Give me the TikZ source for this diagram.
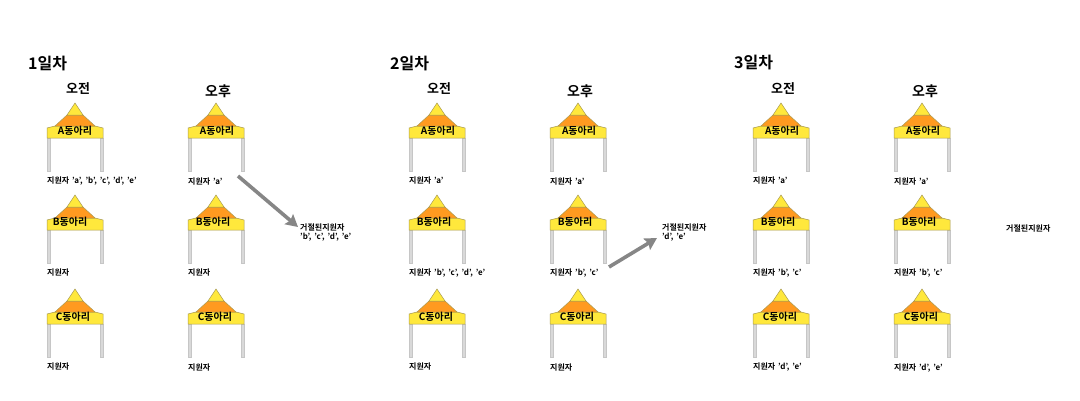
\documentclass[tikz,border=0pt]{standalone}
\usepackage{fontspec}
\setmainfont[WordSpace=1.6]{Noto Sans CJK KR Bold}
\usetikzlibrary{arrows.meta}
\definecolor{tentyellow}{HTML}{FFE83C}
\definecolor{tentorange}{HTML}{FF9A20}
\definecolor{tentline}{HTML}{A89A50}
\tikzset{
  daytitle/.style={anchor=west,font=\fontsize{16}{16}\selectfont,inner sep=0pt},
  halftitle/.style={inner sep=0pt,font=\fontsize{13}{13}\selectfont},
  clublabel/.style={inner sep=0pt,font=\fontsize{10}{10}\selectfont},
  applabel/.style={anchor=west,inner sep=0pt,font=\fontsize{8}{8}\selectfont},
  rejlabel/.style={anchor=west,inner sep=0pt,align=left,font=\fontsize{8}{9}\selectfont},
  rejarrow/.style={draw=gray!95,line width=3.6pt,-{Stealth[length=12pt,width=13pt,inset=2pt]}},
  tent/.pic={
    \fill[gray!30,draw=gray!45,line width=.3pt] (-28,35) rectangle (-25,68);
    \fill[gray!30,draw=gray!45,line width=.3pt] (25,35) rectangle (28,68);
    \filldraw[fill=tentyellow,draw=tentline,line width=.5pt] (-28,25) -- (-20,23) -- (20,23) -- (28,25)
      -- (28,35) -- (-28,35) -- cycle;
    \filldraw[fill=tentorange,draw=tentline,line width=.5pt] (-8,12) -- (8,12) -- (20,23) -- (-20,23) -- cycle;
    \filldraw[fill=tentyellow,draw=tentline,line width=.5pt] (0,0) -- (8,12) -- (-8,12) -- cycle;
  }
}
\begin{document}
\begin{tikzpicture}[x=1pt,y=-1pt]
  \useasboundingbox (0,0) rectangle (1080,400);
  % day titles
  \node[daytitle] (day1) at (28,64) {1일차};
  \node[daytitle] (day2) at (390,64) {2일차};
  \node[daytitle] (day3) at (734,63) {3일차};
  \foreach \x/\n in {78/1,439/2,783/3}
    \node[halftitle] (am\n) at (\x,89) {오전};
  \foreach \x/\n in {218/1,580/2,925/3}
    \node[halftitle,font=\fontsize{14}{14}\selectfont] (pm\n) at (\x,91) {오후};
  % tents
  \foreach \x in {75,216,437,578,781,922} {
    \path (\x,103) pic {tent};
    \path (\x,195) pic {tent};
    \path (\x,289) pic {tent};
  }
  \foreach \x/\n in {75/1,217/2,438/3,579/4,782/5,923/6}
    \node[clublabel] (clubA\n) at (\x,131) {A동아리};
  \foreach \x/\n in {70/1,213/2,434/3,575/4,778/5,919/6}
    \node[clublabel] (clubB\n) at (\x,222) {B동아리};
  \foreach \x/\n in {73/1,215/2,436/3,577/4,780/5,921/6}
    \node[clublabel] (clubC\n) at (\x,317) {C동아리};
  % applicants
  \node[applabel] (appA1) at (47,181) {지원자 'a', 'b', 'c', 'd', 'e'};
  \node[applabel] (appB1) at (47,272.5) {지원자};
  \node[applabel] (appC1) at (47,366.5) {지원자};
  \node[applabel] (appA2) at (188,181.5) {지원자 'a'};
  \node[applabel] (appB2) at (188,272.5) {지원자};
  \node[applabel] (appC2) at (188,367.5) {지원자};
  \node[applabel] (appA3) at (409,180.5) {지원자 'a'};
  \node[applabel] (appB3) at (409,272.5) {지원자 'b', 'c', 'd', 'e'};
  \node[applabel] (appC3) at (409,366.5) {지원자};
  \node[applabel] (appA4) at (550,181.5) {지원자 'a'};
  \node[applabel] (appB4) at (550,272.5) {지원자 'b', 'c'};
  \node[applabel] (appC4) at (550,367.5) {지원자};
  \node[applabel] (appA5) at (753,180.5) {지원자 'a'};
  \node[applabel] (appB5) at (753,272.5) {지원자 'b', 'c'};
  \node[applabel] (appC5) at (753,366.5) {지원자 'd', 'e'};
  \node[applabel] (appA6) at (894,181.5) {지원자 'a'};
  \node[applabel] (appB6) at (894,272.5) {지원자 'b', 'c'};
  \node[applabel] (appC6) at (894,367.5) {지원자 'd', 'e'};
  % rejected
  \node[rejlabel] (rej1) at (300,232) {거절된지원자\\'b', 'c', 'd', 'e'};
  \node[rejlabel] (rej2) at (662,232) {거절된지원자\\'d', 'e'};
  \node[rejlabel] (rej3) at (1006,228) {거절된지원자};
  \coordinate (from1) at (238,176);
  \coordinate (to1) at (298,227);
  \coordinate (from2) at (609,267);
  \coordinate (to2) at (657,238);
  \draw[rejarrow] (from1) -- (to1);
  \draw[rejarrow] (from2) -- (to2);
\end{tikzpicture}
\end{document}
